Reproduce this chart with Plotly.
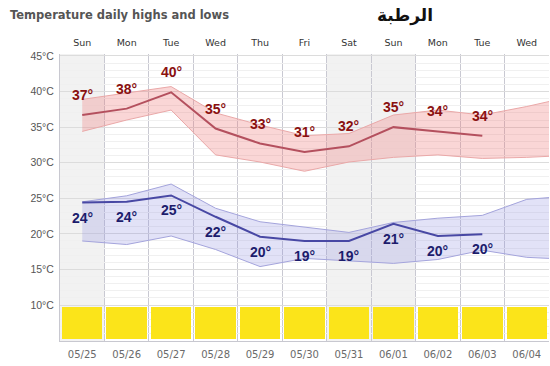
import plotly.graph_objects as go

# ---- data ----
days = ["Sun", "Mon", "Tue", "Wed", "Thu", "Fri", "Sat", "Sun", "Mon", "Tue", "Wed"]
dates = ["05/25", "05/26", "05/27", "05/28", "05/29", "05/30", "05/31", "06/01", "06/02", "06/03", "06/04"]
weekend_shade = [1, 0, 0, 0, 0, 0, 1, 1, 0, 0, 0]

high_line = [36.7, 37.6, 39.9, 34.8, 32.7, 31.5, 32.3, 35.0, 34.4, 33.8]
high_labels = [37, 38, 40, 35, 33, 31, 32, 35, 34, 34]
# band includes one extra (clipped) point beyond the last day
high_band_upper = [38.9, 39.8, 40.7, 37.0, 35.3, 33.8, 34.1, 36.7, 37.4, 36.7, 37.9, 39.3]
high_band_lower = [34.4, 36.0, 37.4, 31.1, 30.1, 28.8, 30.1, 30.75, 31.1, 30.6, 30.75, 31.05]

low_line = [24.4, 24.5, 25.4, 22.4, 19.6, 19.0, 19.0, 21.4, 19.7, 19.95]
low_labels = [24, 24, 25, 22, 20, 19, 19, 21, 20, 20]
low_band_upper = [24.5, 25.35, 27.0, 23.6, 21.7, 20.9, 20.2, 21.6, 22.2, 22.6, 24.85, 25.35]
low_band_lower = [19.0, 18.5, 19.7, 17.8, 15.4, 16.55, 16.2, 15.85, 16.4, 17.7, 16.7, 16.4]

sun_bar_top = [9.65] * 11
sun_bar_base = 5.2

y_ticks = [10, 15, 20, 25, 30, 35, 40, 45]
title_text = "Temperature daily highs and lows"
place_name = "الرطبة"

idx = list(range(len(days)))
band_idx = list(range(len(high_band_upper)))
line_idx = list(range(len(high_line)))

fig = go.Figure()

# yellow boxes
fig.add_trace(go.Bar(
    x=idx, y=[t - sun_bar_base for t in sun_bar_top], base=sun_bar_base,
    width=0.91, marker=dict(color="#fbe41a", line=dict(width=0)),
    hoverinfo="skip", showlegend=False))

# high band
fig.add_trace(go.Scatter(x=band_idx, y=high_band_lower, mode="lines",
                         line=dict(color="#eaa8a8", width=1), showlegend=False, hoverinfo="skip"))
fig.add_trace(go.Scatter(x=band_idx, y=high_band_upper, mode="lines", fill="tonexty",
                         fillcolor="rgba(238,120,120,0.30)",
                         line=dict(color="#eaa8a8", width=1), showlegend=False, hoverinfo="skip"))
# low band
fig.add_trace(go.Scatter(x=band_idx, y=low_band_lower, mode="lines",
                         line=dict(color="#a4a4dc", width=1), showlegend=False, hoverinfo="skip"))
fig.add_trace(go.Scatter(x=band_idx, y=low_band_upper, mode="lines", fill="tonexty",
                         fillcolor="rgba(140,140,225,0.25)",
                         line=dict(color="#a4a4dc", width=1), showlegend=False, hoverinfo="skip"))
# lines
fig.add_trace(go.Scatter(x=line_idx, y=high_line, mode="lines",
                         line=dict(color="#b4505e", width=2), showlegend=False))
fig.add_trace(go.Scatter(x=line_idx, y=low_line, mode="lines",
                         line=dict(color="#4848a4", width=2), showlegend=False))
# invisible trace for top axis
fig.add_trace(go.Scatter(x=idx, y=[None] * len(idx), xaxis="x2", mode="lines",
                         showlegend=False, hoverinfo="skip"))

label_font = "Liberation Sans"
annotations = []
for i, v in enumerate(high_labels):
    annotations.append(dict(x=i, y=high_line[i], text=f"{v}°", showarrow=False,
                            yshift=20, yanchor="middle",
                            font=dict(family=label_font, size=14, color="#8a1010", weight="bold")))
for i, v in enumerate(low_labels):
    annotations.append(dict(x=i, y=low_line[i], text=f"{v}°", showarrow=False,
                            yshift=-15, yanchor="middle",
                            font=dict(family=label_font, size=14, color="#1c1c6c", weight="bold")))
annotations.append(dict(x=-52 / 489, y=1 + (54 - 15) / 287, xref="paper", yref="paper",
                        xanchor="left", yanchor="middle", text=title_text, showarrow=False,
                        font=dict(family="DejaVu Sans", size=11.5, color="#555555", weight="bold")))
annotations.append(dict(x=(405 - 60) / 489, y=1 + (54 - 15) / 287, xref="paper", yref="paper",
                        xanchor="center", yanchor="middle", text=place_name, showarrow=False,
                        font=dict(family="DejaVu Sans", size=17, color="#111111", weight="bold")))

shapes = []
for i, s in enumerate(weekend_shade):
    if s:
        shapes.append(dict(type="rect", xref="x", yref="paper", x0=i - 0.5, x1=i + 0.5,
                           y0=0, y1=1, fillcolor="#f2f2f2", line=dict(width=0), layer="below"))

fig.update_layout(
    width=550, height=366,
    margin=dict(l=60, r=1, t=54, b=25),
    paper_bgcolor="white", plot_bgcolor="white",
    showlegend=False, bargap=0,
    annotations=annotations, shapes=shapes,
    xaxis=dict(range=[-0.5, 10.5], tickmode="array", tickvals=idx, ticktext=dates,
               showgrid=False, zeroline=False, showline=True, linecolor="#c8c8d0", linewidth=1,
               ticks="outside", ticklen=4, tickcolor="rgba(0,0,0,0)",
               tickfont=dict(family="DejaVu Sans", size=10, color="#6a6a6a"),
               minor=dict(tickmode="array", tickvals=[i + 0.5 for i in idx[:-1]],
                          showgrid=True, gridcolor="#c9c9d2", gridwidth=1, ticks=""),
               fixedrange=True),
    xaxis2=dict(range=[-0.5, 10.5], overlaying="x", side="top", anchor="y",
                tickmode="array", tickvals=idx, ticktext=days, showgrid=False,
                zeroline=False, showline=False, ticks="outside", ticklen=3,
                tickcolor="rgba(0,0,0,0)",
                tickfont=dict(family="DejaVu Sans", size=9.5, color="#333333")),
    yaxis=dict(range=[4.94, 45.28], tickmode="array", tickvals=y_ticks,
               ticktext=[f"{t}°C" for t in y_ticks],
               showgrid=True, gridcolor="#dcdcdc", gridwidth=1, zeroline=False,
               showline=True, linecolor="#c8c8d0", linewidth=1,
               ticks="outside", ticklen=3, tickcolor="rgba(0,0,0,0)",
               tickfont=dict(family="Liberation Sans", size=10.5, color="#555555"),
               minor=dict(dtick=1, tick0=0, showgrid=True, gridcolor="#f0f0f0", gridwidth=1),
               fixedrange=True),
)

fig.write_html("out.html", config={"displayModeBar": False},
               post_script="document.body.style.margin='0px';")
